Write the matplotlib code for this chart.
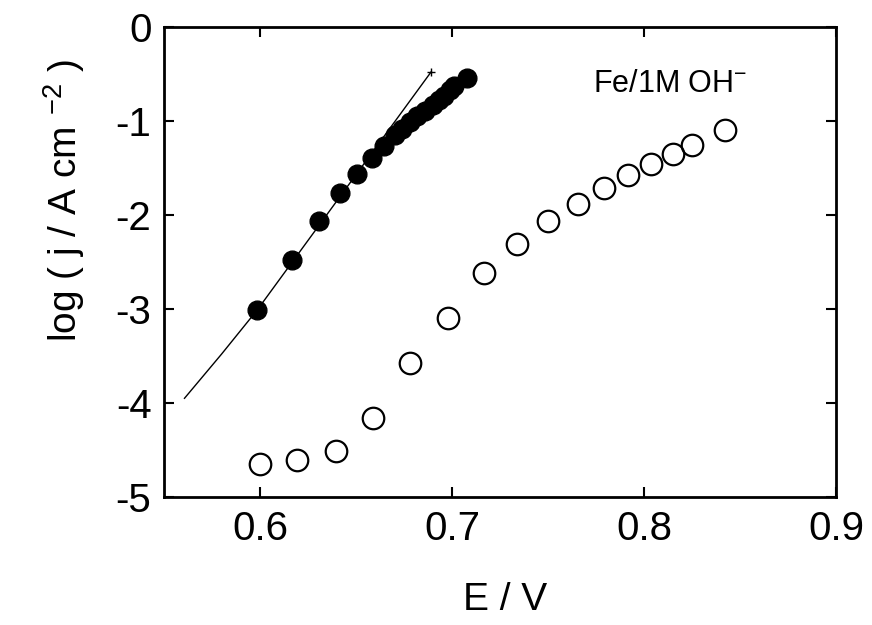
import numpy as np
import matplotlib
matplotlib.use('Agg')
import matplotlib.pyplot as plt

plt.rcParams['font.family'] = ['Liberation Sans', 'DejaVu Sans']
plt.rcParams['mathtext.fontset'] = 'custom'
plt.rcParams['mathtext.rm'] = 'Liberation Sans'
plt.rcParams['mathtext.it'] = 'Liberation Sans:italic'
plt.rcParams['axes.unicode_minus'] = False

# filled circles
E_filled = [0.5986, 0.6166, 0.6306, 0.6417, 0.6508, 0.6581, 0.6647, 0.6703,
            0.674, 0.678, 0.682, 0.686, 0.690, 0.693, 0.696, 0.699, 0.701, 0.708]
logj_filled = [-3.01, -2.48, -2.06, -1.77, -1.56, -1.39, -1.27, -1.15,
               -1.08, -1.01, -0.95, -0.89, -0.83, -0.78, -0.73, -0.67, -0.63, -0.54]

# open circles
E_open = [0.5998, 0.6194, 0.6396, 0.6591, 0.6782, 0.6981, 0.7166, 0.7339,
          0.7500, 0.7654, 0.7794, 0.7915, 0.8039, 0.8152, 0.8250, 0.8420]
logj_open = [-4.65, -4.61, -4.51, -4.16, -3.57, -3.10, -2.62, -2.31,
             -2.06, -1.88, -1.71, -1.57, -1.46, -1.35, -1.26, -1.10]

# fitted line
E_fit = [0.5607, 0.5800, 0.5986, 0.6892]
logj_fit = [-3.95, -3.48, -3.01, -0.476]

xticks = [0.6, 0.7, 0.8, 0.9]
yticks = [0, -1, -2, -3, -4, -5]

fig = plt.figure(figsize=(8.72, 6.25), dpi=100)
ax = fig.add_axes([0.188, 0.2048, 0.7707, 0.752])

ax.plot(E_fit, logj_fit, color='black', lw=1.0)
ax.plot(E_fit[-1:], logj_fit[-1:], ls='none', marker='+', ms=6,
        mec='black', mew=1.0)
ax.plot(E_filled, logj_filled, ls='none', marker='o', ms=13.5,
        mfc='black', mec='black')
ax.plot(E_open, logj_open, ls='none', marker='o', ms=15.5,
        mfc='none', mec='black', mew=1.6)

ax.text(0.7737, -0.69, r'Fe/1M OH$^{-}$', fontsize=22, va='baseline')

ax.set_xlim(0.55, 0.9)
ax.set_ylim(-5, 0)
ax.set_xticks(xticks)
ax.set_yticks(yticks)
ax.set_xticklabels(['0.6', '0.7', '0.8', '0.9'])
ax.set_yticklabels(['0', '-1', '-2', '-3', '-4', '-5'])
ax.tick_params(direction='in', top=True, right=True, length=7, width=1.5,
               labelsize=29, pad=9)
for s in ax.spines.values():
    s.set_linewidth(2)

ax.set_xlabel('E / V', fontsize=28)
ax.xaxis.set_label_coords(0.507, -0.181)
ax.xaxis.label.set_va('top')
ax.set_ylabel(r'log ( j / A cm $^{-2}$ )', fontsize=28)
ax.yaxis.set_label_coords(-0.115, 0.63)

fig.savefig('out.png', dpi=100)
